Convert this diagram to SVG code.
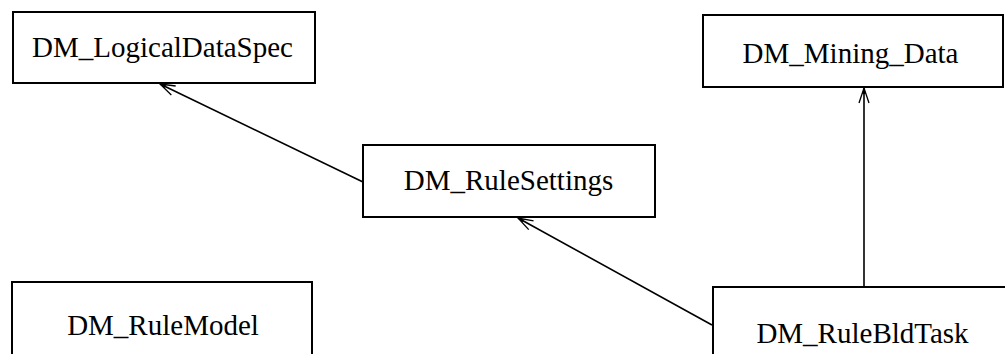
<svg xmlns="http://www.w3.org/2000/svg" width="1005" height="354" viewBox="0 0 1005 354">
  <style>
    .box { fill: #ffffff; stroke: #000000; stroke-width: 2; }
    .lbl { font-size: 29px; fill: #000000; text-anchor: middle; }
    .edge { stroke: #000000; stroke-width: 1.6; fill: none; }
  </style>
  <defs>
    <marker id="open" viewBox="-17 -7 18 14" refX="0" refY="0" markerWidth="18" markerHeight="14" markerUnits="userSpaceOnUse" orient="auto" overflow="visible">
      <path d="M-15,-5 L0,0 L-15,5" fill="none" stroke="#000000" stroke-width="1.3"/>
      <path d="M-6,-1.6 L0,0 L-6,1.6 Z" fill="#000000"/>
    </marker>
  </defs>
  <rect width="1005" height="354" fill="#ffffff"/>
  <g id="connectors">
    <line class="edge" x1="363" y1="182" x2="160" y2="84" marker-end="url(#open)"/>
    <line class="edge" x1="712" y1="325" x2="518" y2="218" marker-end="url(#open)"/>
    <line class="edge" x1="864" y1="287" x2="864" y2="88" stroke-width="2.5" marker-end="url(#open)"/>
  </g>
  <g font-family="Liberation Serif, DejaVu Serif, Times New Roman, serif">
    <g id="DM_LogicalDataSpec">
      <rect class="box" x="13" y="12" width="302" height="71"/>
      <text class="lbl" x="162.5" y="57">DM_LogicalDataSpec</text>
    </g>
    <g id="DM_Mining_Data">
      <rect class="box" x="703" y="15" width="300" height="72"/>
      <text class="lbl" x="850.5" y="63">DM_Mining_Data</text>
    </g>
    <g id="DM_RuleSettings">
      <rect class="box" x="363" y="145" width="292" height="72"/>
      <text class="lbl" x="508.5" y="190">DM_RuleSettings</text>
    </g>
    <g id="DM_RuleModel">
      <rect class="box" x="12" y="282" width="300" height="80"/>
      <text class="lbl" x="163" y="335">DM_RuleModel</text>
    </g>
    <g id="DM_RuleBldTask">
      <rect class="box" x="713" y="287" width="310" height="80"/>
      <text class="lbl" x="862.5" y="343">DM_RuleBldTask</text>
    </g>
  </g>
</svg>
